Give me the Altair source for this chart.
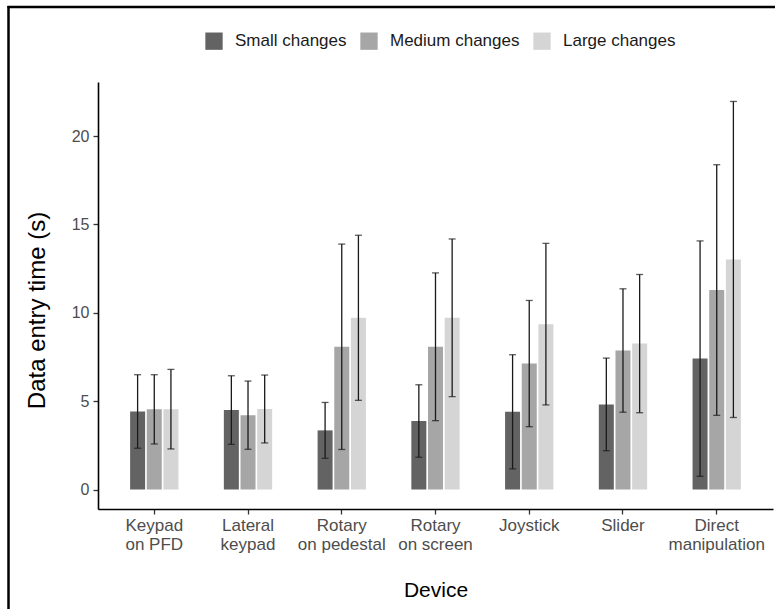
import altair as alt
import pandas as pd

# Devices (two-line axis labels) and change-size series
devices = [
    "Keypad\non PFD",
    "Lateral\nkeypad",
    "Rotary\non pedestal",
    "Rotary\non screen",
    "Joystick",
    "Slider",
    "Direct\nmanipulation",
]
sizes = ["Small changes", "Medium changes", "Large changes"]
colors = ["#636363", "#a6a6a6", "#d5d5d5"]

# Mean data entry time (s) and standard deviation per device
small_mean = [4.42, 4.50, 3.35, 3.88, 4.40, 4.82, 7.41]
small_sd = [2.08, 1.94, 1.58, 2.05, 3.23, 2.62, 6.66]
medium_mean = [4.54, 4.21, 8.08, 8.08, 7.13, 7.87, 11.29]
medium_sd = [1.96, 1.93, 5.81, 4.18, 3.57, 3.49, 7.09]
large_mean = [4.55, 4.56, 9.72, 9.72, 9.36, 8.26, 13.02]
large_sd = [2.25, 1.92, 4.67, 4.46, 4.57, 3.91, 8.94]

rows = []
for size, means, sds in zip(
    sizes, [small_mean, medium_mean, large_mean], [small_sd, medium_sd, large_sd]
):
    for dev, m, s in zip(devices, means, sds):
        rows.append({"device": dev, "size": size, "mean": m, "lo": m - s, "hi": m + s})
df = pd.DataFrame(rows)

W, H = 675, 427
FONT = "Liberation Sans"

x_enc = alt.X(
    "device:N",
    sort=devices,
    title="Device",
    scale=alt.Scale(paddingInner=0.4668, paddingOuter=0.3337),
    axis=alt.Axis(
        labelAngle=0,
        labelExpr="split(datum.label, '\\n')",
        labelFontSize=17,
        labelLineHeight=19,
        labelColor="#4d4d4d",
        labelPadding=3,
        labelBaseline="top",
        tickSize=5,
        titleFontSize=21,
        titlePadding=27,
    ),
)
xo_enc = alt.XOffset(
    "size:N", sort=sizes, scale=alt.Scale(paddingInner=0.1, paddingOuter=0.05)
)
y_scale = alt.Scale(domain=[-1.098, 23.06], nice=False, zero=False)

base = alt.Chart(df)

bars = base.mark_bar().encode(
    x=x_enc,
    xOffset=xo_enc,
    y=alt.Y(
        "mean:Q",
        scale=y_scale,
        title="Data entry time (s)",
        axis=alt.Axis(
            values=[0, 5, 10, 15, 20],
            labelFontSize=16,
            labelColor="#4d4d4d",
            labelPadding=4,
            tickSize=5,
            grid=False,
            titleFontSize=24,
            titlePadding=22,
            titleY=228,
        ),
    ),
    y2=alt.datum(0),
    color=alt.Color(
        "size:N",
        sort=sizes,
        scale=alt.Scale(domain=sizes, range=colors),
        legend=alt.Legend(
            title=None,
            orient="none",
            direction="horizontal",
            legendX=107,
            legendY=-50,
            symbolType="square",
            symbolSize=300,
            symbolStrokeWidth=0,
            symbolOpacity=1,
            labelFontSize=17,
            labelColor="#1a1a1a",
            labelOffset=12,
            columnPadding=13,
            padding=0,
        ),
    ),
)

err = base.mark_rule(color="#1a1a1a", strokeWidth=1.3).encode(
    x=alt.X("device:N", sort=devices),
    xOffset=alt.XOffset("size:N", sort=sizes),
    y=alt.Y("lo:Q", scale=y_scale),
    y2="hi:Q",
)
cap_lo = base.mark_tick(color="#1a1a1a", thickness=1.3, size=7).encode(
    x=alt.X("device:N", sort=devices),
    xOffset=alt.XOffset("size:N", sort=sizes),
    y=alt.Y("lo:Q", scale=y_scale),
)
cap_hi = base.mark_tick(color="#1a1a1a", thickness=1.3, size=7).encode(
    x=alt.X("device:N", sort=devices),
    xOffset=alt.XOffset("size:N", sort=sizes),
    y=alt.Y("hi:Q", scale=y_scale),
)

# Outer frame lines (left and top edges of the figure border)
frame_df = pd.DataFrame({"k": [0]})
frame_left = alt.Chart(frame_df).mark_rule(color="black", strokeWidth=2.5).encode(
    x=alt.value(-89.5), y=alt.value(-76), y2=alt.value(H + 200)
)
frame_top = alt.Chart(frame_df).mark_rule(color="black", strokeWidth=2.5).encode(
    x=alt.value(-90.5), x2=alt.value(W + 100), y=alt.value(-75)
)

chart = (
    alt.layer(bars, err, cap_lo, cap_hi, frame_left, frame_top)
    .properties(
        width=W,
        height=H,
        autosize=alt.AutoSizeParams(type="none"),
        padding={"left": 98, "top": 82, "right": 2, "bottom": 100},
        background="white",
    )
    .configure_view(stroke=None)
    .configure_axis(
        domainColor="black",
        domainWidth=1.6,
        tickColor="#333333",
        tickWidth=1.3,
        labelFont=FONT,
        titleFont=FONT,
        titleColor="black",
        titleFontWeight="normal",
    )
    .configure_legend(labelFont=FONT)
)

chart.save("out.html", embed_options={"renderer": "svg", "actions": False})
